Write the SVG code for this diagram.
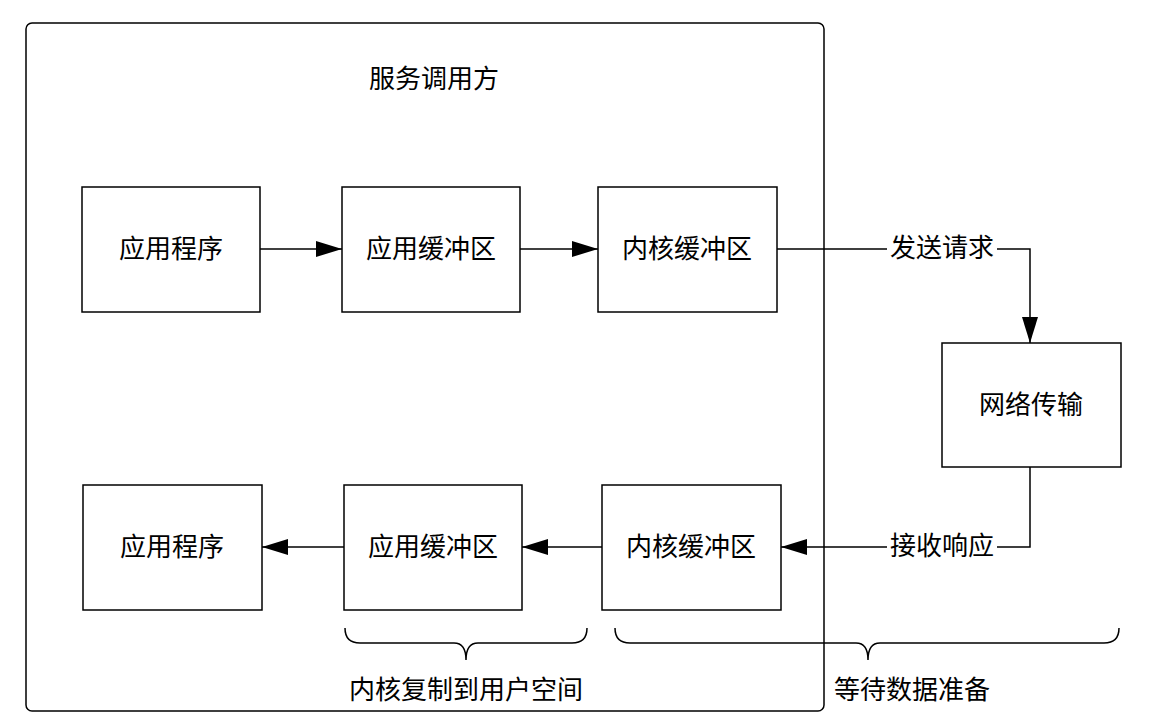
<svg xmlns="http://www.w3.org/2000/svg" width="1160" height="727" viewBox="0 0 1160 727">
<style>
.box{fill:#fff;stroke:#000;stroke-width:1.5}
.t{font-family:"Liberation Serif","Noto Sans CJK SC",serif;font-size:26px;fill:#000;text-anchor:middle;dominant-baseline:central}
.ln{fill:none;stroke:#000;stroke-width:1.5}
</style>
<defs>
<marker id="ahb" viewBox="0 0 26 16" refX="26" refY="8" markerWidth="26" markerHeight="16" markerUnits="userSpaceOnUse" orient="auto">
<path d="M0,0 L26,8 L0,16 Z" fill="#000"/>
</marker>
</defs>
<rect width="1160" height="727" fill="#fff"/>
<g id="container">
<rect x="26" y="23" width="798" height="688" rx="6" class="box"/>
<text x="434" y="79" class="t">服务调用方</text>
</g>
<g id="connectors">
<path d="M260,249 H342" class="ln" marker-end="url(#ahb)"/>
<path d="M520,249 H598" class="ln" marker-end="url(#ahb)"/>
<path d="M777,249 H1030 V343" class="ln" marker-end="url(#ahb)"/>
<path d="M1030,467 V547 H781" class="ln" marker-end="url(#ahb)"/>
<path d="M602,547 H522" class="ln" marker-end="url(#ahb)"/>
<path d="M344,547 H262" class="ln" marker-end="url(#ahb)"/>
<rect x="887" y="234" width="110" height="30" fill="#fff"/>
<text x="942" y="248" class="t">发送请求</text>
<rect x="887" y="532" width="110" height="30" fill="#fff"/>
<text x="942" y="546" class="t">接收响应</text>
</g>
<g id="n1"><rect x="82" y="187" width="178" height="125" class="box"/><text x="171" y="249" class="t">应用程序</text></g>
<g id="n2"><rect x="342" y="187" width="178" height="125" class="box"/><text x="431" y="249" class="t">应用缓冲区</text></g>
<g id="n3"><rect x="598" y="187" width="179" height="125" class="box"/><text x="687" y="249" class="t">内核缓冲区</text></g>
<g id="n4"><rect x="942" y="343" width="179" height="124" class="box"/><text x="1031" y="405" class="t">网络传输</text></g>
<g id="n5"><rect x="602" y="485" width="179" height="125" class="box"/><text x="691" y="547" class="t">内核缓冲区</text></g>
<g id="n6"><rect x="344" y="485" width="178" height="125" class="box"/><text x="433" y="547" class="t">应用缓冲区</text></g>
<g id="n7"><rect x="83" y="485" width="179" height="125" class="box"/><text x="172" y="547" class="t">应用程序</text></g>
<g id="brace1">
<path d="M345,628 Q345,643 360,643 H454 Q466,643 466,660 Q466,643 478,643 H572 Q587,643 587,628" class="ln"/>
<text x="466" y="690" class="t">内核复制到用户空间</text>
</g>
<g id="brace2">
<path d="M615,628 Q615,643 630,643 H856 Q868,643 868,660 Q868,643 880,643 H1104 Q1119,643 1119,628" class="ln"/>
<text x="912" y="690" class="t">等待数据准备</text>
</g>
</svg>
